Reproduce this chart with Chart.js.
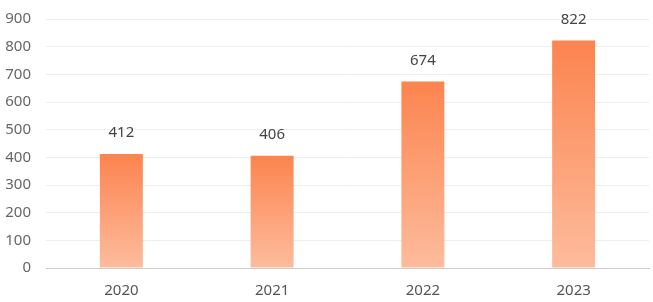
<!DOCTYPE html>
<html>
<head>
<meta charset="utf-8">
<script src="https://cdn.jsdelivr.net/npm/chart.js@4"></script>
<style>
  html, body { margin: 0; padding: 0; background: #fff; }
  #wrap { width: 653px; height: 302px; }
</style>
</head>
<body>
<div id="wrap"><canvas id="bar-chart"></canvas></div>
<script>
const years = ['2020', '2021', '2022', '2023'];
const counts = [412, 406, 674, 822];
const yTicks = [0, 100, 200, 300, 400, 500, 600, 700, 800, 900];

const ctx = document.getElementById('bar-chart');

// gradient per bar, from its top down to the zero line
function barGradient(context) {
    const chart = context.chart;
    if (!chart.chartArea) return '#fd8a55';
    const yScale = chart.scales.y;
    const top = yScale.getPixelForValue(context.raw);
    const bottom = yScale.getPixelForValue(0);
    const g = chart.ctx.createLinearGradient(0, top, 0, bottom);
    g.addColorStop(0, '#fc844f');
    g.addColorStop(1, '#fdbc9d');
    return g;
}

const valueLabels = {
    id: 'valueLabels',
    afterDatasetsDraw(chart) {
        const c = chart.ctx;
        const meta = chart.getDatasetMeta(0);
        c.save();
        c.font = '15px "Noto Sans", sans-serif';
        c.fillStyle = '#444';
        c.textAlign = 'center';
        c.textBaseline = 'middle';
        meta.data.forEach((bar, i) => {
            c.fillText(counts[i], bar.x, bar.y - 21);
        });
        c.restore();
    }
};

new Chart(ctx, {
    type: 'bar',
    data: {
        labels: years,
        datasets: [{
            data: counts,
            backgroundColor: barGradient,
            borderWidth: 0,
            categoryPercentage: 1,
            barPercentage: 0.285
        }]
    },
    options: {
        responsive: true,
        maintainAspectRatio: false,
        animation: false,
        layout: { padding: { top: 19, right: 4, bottom: 0, left: 0 } },
        plugins: {
            legend: { display: false },
            tooltip: { enabled: false }
        },
        scales: {
            x: {
                grid: { display: false, drawTicks: false },
                border: { color: '#cccccc', width: 1 },
                ticks: {
                    color: '#555',
                    padding: 14,
                    font: { family: '"Noto Sans", sans-serif', size: 15 }
                },
                afterFit: axis => { axis.height = 34; }
            },
            y: {
                min: 0,
                max: 900,
                afterBuildTicks: axis => { axis.ticks = yTicks.map(v => ({ value: v })); },
                grid: { color: '#eeeeee', drawTicks: false },
                border: { display: false },
                ticks: {
                    color: '#666',
                    padding: 15,
                    font: { family: '"Noto Sans", sans-serif', size: 15 }
                },
                afterFit: axis => {
                    axis.width = 46;
                    axis.paddingTop = 0;
                    axis.paddingBottom = 0;
                }
            }
        }
    },
    plugins: [valueLabels]
});
</script>
</body>
</html>
